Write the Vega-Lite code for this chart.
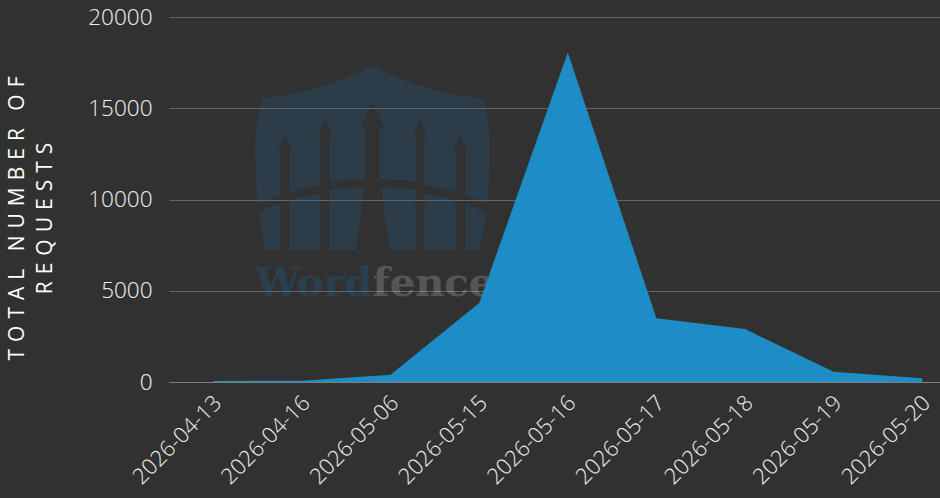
{
  "$schema": "https://vega.github.io/schema/vega-lite/v6.json",
  "width": 771,
  "height": 365,
  "autosize": {"type": "none"},
  "padding": {"left": 169, "top": 17, "right": 0, "bottom": 116},
  "background": "#313131",
  "datasets": {
    "requests": [
      {"date": "2026-04-13", "requests": 60},
      {"date": "2026-04-16", "requests": 70},
      {"date": "2026-05-06", "requests": 400},
      {"date": "2026-05-15", "requests": 4330},
      {"date": "2026-05-16", "requests": 18050},
      {"date": "2026-05-17", "requests": 3500},
      {"date": "2026-05-18", "requests": 2900},
      {"date": "2026-05-19", "requests": 560},
      {"date": "2026-05-20", "requests": 200}
    ],
    "logo": [{"date": "2026-05-06", "y": 12164, "text_y": 4712}]
  },
  "layer": [
    {
      "data": {"name": "logo"},
      "mark": {
        "type": "point",
        "shape": "M0,-94Q-55,-66 -110,-62Q-120,-30 -117,7L-115,45Q-103,38 -93,36L-93,-8L-95,-8L-87.5,-24L-80,-8L-83,-8L-83,32Q-68,27 -52,25L-52,-23L-55,-23L-47.5,-40L-40,-23L-43,-23L-43,22Q-25,19 -7,19L-7,-32L-12,-32L0,-58L12,-32L7,-32L7,19Q25,19 43,22L43,-23L40,-23L47.5,-40L55,-23L52,-23L52,25Q68,27 83,32L83,-8L80,-8L87.5,-24L95,-8L93,-8L93,36Q103,38 115,45L117,7Q120,-30 110,-62Q55,-66 0,-94ZM-114,53L-93,43L-93,90L-107,90ZM-83,40Q-68,36 -52,34L-52,90L-83,90ZM-43,30Q-25,27 -8,27L-17,90L-43,90ZM114,53L93,43L93,90L107,90ZM83,40Q68,36 52,34L52,90L83,90ZM43,30Q25,27 8,27L17,90L43,90Z",
        "size": 4,
        "filled": true,
        "fill": "#186da9",
        "opacity": 0.2,
        "strokeWidth": 0,
        "xOffset": -18
      },
      "encoding": {
        "x": {"field": "date", "type": "ordinal"},
        "y": {"field": "y", "type": "quantitative"}
      }
    },
    {
      "data": {"name": "logo"},
      "mark": {
        "type": "text",
        "text": "Word",
        "align": "right",
        "baseline": "alphabetic",
        "font": "DejaVu Serif",
        "fontWeight": "bold",
        "fontSize": 40,
        "fill": "#186da9",
        "opacity": 0.25,
        "xOffset": -18
      },
      "encoding": {
        "x": {"field": "date", "type": "ordinal"},
        "y": {"field": "text_y", "type": "quantitative"}
      }
    },
    {
      "data": {"name": "logo"},
      "mark": {
        "type": "text",
        "text": "fence",
        "align": "left",
        "baseline": "alphabetic",
        "font": "DejaVu Serif",
        "fontWeight": "bold",
        "fontSize": 40,
        "fill": "#ffffff",
        "opacity": 0.18,
        "xOffset": -18
      },
      "encoding": {
        "x": {"field": "date", "type": "ordinal"},
        "y": {"field": "text_y", "type": "quantitative"}
      }
    },
    {
      "data": {"name": "requests"},
      "mark": {"type": "area", "color": "#1e8dc6", "opacity": 1},
      "encoding": {
        "x": {
          "field": "date",
          "type": "ordinal",
          "title": null,
          "scale": {"type": "point", "padding": 0.5, "range": [0, 797.6]},
          "axis": {
            "labelAngle": -45,
            "labelAlign": "right",
            "labelBaseline": "middle",
            "labelFont": "Open Sans Light, Open Sans",
            "labelFontWeight": 300,
            "labelFontSize": 22,
            "labelColor": "#eeeeee",
            "labelPadding": 17,
            "labelOffset": 4,
            "labelOverlap": false,
            "labelBound": false,
            "labelFlush": false,
            "ticks": false,
            "domain": true,
            "domainColor": "#808080",
            "domainWidth": 1,
            "grid": false
          }
        },
        "y": {
          "field": "requests",
          "type": "quantitative",
          "title": ["T\u2004O\u2004T\u2004A\u2004L\u2002\u2004N\u2004U\u2004M\u2004B\u2004E\u2004R\u2002\u2004O\u2004F", "R\u2004E\u2004Q\u2004U\u2004E\u2004S\u2004T\u2004S"],
          "scale": {"domain": [0, 20000], "nice": false},
          "axis": {
            "values": [0, 5000, 10000, 15000, 20000],
            "format": "d",
            "labelFont": "Open Sans Light, Open Sans",
            "labelFontWeight": 300,
            "labelFontSize": 22.5,
            "labelColor": "#eeeeee",
            "labelPadding": 17,
            "ticks": false,
            "domain": false,
            "grid": true,
            "gridColor": "#666666",
            "gridWidth": 1,
            "titleFont": "Open Sans",
            "titleFontWeight": 400,
            "titleFontSize": 21,
            "titleColor": "#ffffff",
            "titleAngle": -90,
            "titleAlign": "center",
            "titleBaseline": "middle",
            "titleLineHeight": 28,
            "titleX": -152,
            "titleY": 201,
            "titleLimit": 500
          }
        }
      }
    }
  ],
  "config": {
    "view": {"stroke": null},
    "font": "Open Sans"
  }
}
